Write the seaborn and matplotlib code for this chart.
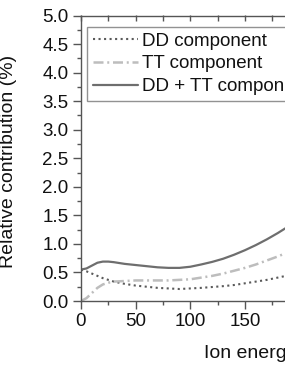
import numpy as np
import pandas as pd
import seaborn as sns
import matplotlib.pyplot as plt
from matplotlib.ticker import MultipleLocator, FuncFormatter

# values
energy = [0, 5, 10, 15, 20, 25, 30, 40, 50, 60, 70, 80, 90, 100,
          110, 120, 130, 140, 150, 160, 170, 180, 190]
dd_comp = [0.55, 0.52, 0.48, 0.44, 0.40, 0.37, 0.34, 0.30, 0.27, 0.25, 0.23, 0.22,
           0.21, 0.22, 0.23, 0.245, 0.26, 0.28, 0.31, 0.34, 0.37, 0.41, 0.45]
tt_comp = [0.0, 0.05, 0.14, 0.23, 0.29, 0.32, 0.34, 0.35, 0.36, 0.36, 0.36, 0.36,
           0.37, 0.38, 0.41, 0.44, 0.48, 0.53, 0.58, 0.64, 0.71, 0.78, 0.86]
sum_comp = [0.55, 0.57, 0.62, 0.67, 0.69, 0.69, 0.68, 0.65, 0.63, 0.61, 0.59, 0.58,
            0.58, 0.60, 0.64, 0.685, 0.74, 0.81, 0.89, 0.98, 1.08, 1.19, 1.31]
labels = ['DD component', 'TT component', 'DD + TT component']

df = pd.DataFrame({'energy': energy, 'dd': dd_comp, 'tt': tt_comp, 'sum': sum_comp})

sns.set_theme(style='ticks')
plt.rcParams['font.family'] = ['Liberation Sans', 'DejaVu Sans']

fig = plt.figure(figsize=(2.85, 3.65), dpi=100)
# axes run past the right edge, like the cropped original
ax = fig.add_axes([81/285, 64/365, 328/285, 285.5/365])

sns.lineplot(data=df, x='energy', y='dd', ax=ax, color='#5a5a5a', lw=1.5,
             linestyle=':', label=labels[0])
sns.lineplot(data=df, x='energy', y='tt', ax=ax, color='#bdbdbd', lw=1.8,
             linestyle=(0, (4, 1.5, 0.8, 1.5)), label=labels[1])
sns.lineplot(data=df, x='energy', y='sum', ax=ax, color='#6e6e6e', lw=1.6,
             linestyle='-', label=labels[2])

ax.set_xlim(0, 300)
ax.set_ylim(0, 5)
ax.xaxis.set_major_locator(MultipleLocator(50))
ax.xaxis.set_minor_locator(MultipleLocator(25))
# labels past 150 fall outside the cropped picture
ax.xaxis.set_major_formatter(FuncFormatter(lambda v, p: f'{v:.0f}' if v < 190 else ''))
ax.yaxis.set_major_locator(MultipleLocator(0.5))
ax.yaxis.set_minor_locator(MultipleLocator(0.25))
ax.yaxis.set_major_formatter(plt.FormatStrFormatter('%.1f'))

for s in ax.spines.values():
    s.set_color('#555555')
    s.set_linewidth(1.0)
ax.tick_params(which='major', direction='out', length=6, width=1, color='#555555',
               labelsize=13.5, labelcolor='#111111', pad=3)
ax.tick_params(which='minor', direction='out', length=3, width=1, color='#555555')

top = ax.secondary_xaxis('top')
top.xaxis.set_major_locator(MultipleLocator(50))
top.xaxis.set_minor_locator(MultipleLocator(25))
top.tick_params(which='both', direction='in', length=4, width=1, color='#555555',
                labeltop=False)
top.spines['top'].set_visible(False)

ax.set_ylabel('Relative contribution (%)', fontsize=14, color='#111111')
ax.yaxis.set_label_coords(-0.195, 0.49)
ax.set_xlabel('Ion energy (keV)', fontsize=14, color='#111111', ha='left', va='top')
ax.xaxis.set_label_coords((204 - 81) / 328, -0.155)

leg = ax.legend(loc='upper left', bbox_to_anchor=(6/328, 1 - 11.5/285.5),
                borderaxespad=0, fontsize=13.5, frameon=True, fancybox=False,
                handlelength=2.4, handletextpad=0.25, labelspacing=0.3,
                borderpad=0.3)
leg.get_frame().set_edgecolor('#777777')
leg.get_frame().set_linewidth(1.0)
for t in leg.get_texts():
    t.set_color('#111111')

fig.savefig('out.png', dpi=100)
